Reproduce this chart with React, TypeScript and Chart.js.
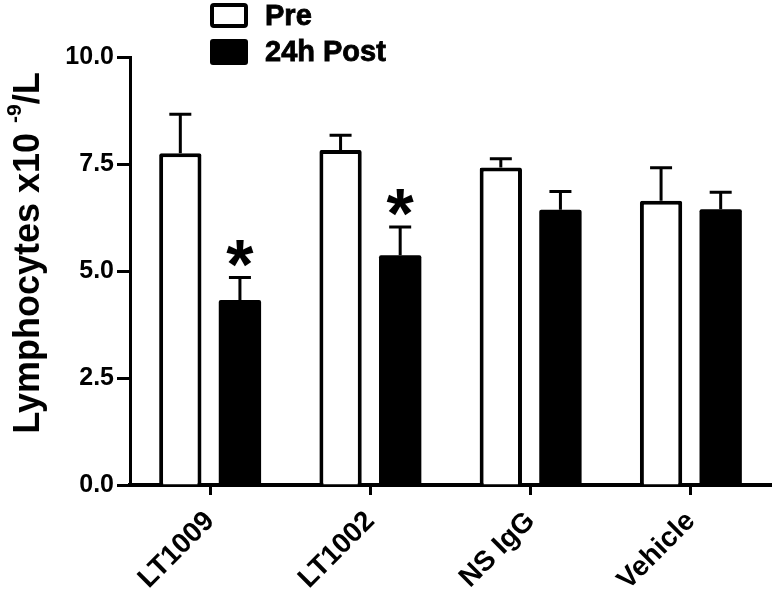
import React, { useEffect, useRef } from "react";
import { Chart, registerables } from "chart.js";

Chart.register(...registerables);

const categories = ["LT1009", "LT1002", "NS IgG", "Vehicle"];
const preValues = [7.75, 7.83, 7.42, 6.64];
const preErrors = [0.91, 0.34, 0.2, 0.77];
const postValues = [4.32, 5.37, 6.43, 6.44];
const postErrors = [0.53, 0.66, 0.43, 0.4];
const significant = [true, true, false, false];
const yTicks = [0, 2.5, 5, 7.5, 10];
const seriesLabels = ["Pre", "24h Post"];

const FONT = '"Liberation Sans", Arial, Helvetica, sans-serif';

const errorBarPlugin = {
  id: "errorBars",
  afterDatasetsDraw(chart: any) {
    const ctx = chart.ctx;
    const yScale = chart.scales.y;
    chart.data.datasets.forEach((ds: any, di: number) => {
      const meta = chart.getDatasetMeta(di);
      meta.data.forEach((el: any, i: number) => {
        const v = ds.data[i];
        const e = ds.errors[i];
        const yTop = yScale.getPixelForValue(v);
        const yErr = yScale.getPixelForValue(v + e);
        ctx.save();
        ctx.strokeStyle = "#000";
        ctx.lineWidth = 3;
        ctx.beginPath();
        ctx.moveTo(el.x, yTop);
        ctx.lineTo(el.x, yErr);
        ctx.moveTo(el.x - 11, yErr);
        ctx.lineTo(el.x + 11, yErr);
        ctx.stroke();
        ctx.restore();
      });
    });
  },
};

const asteriskPlugin = {
  id: "asterisks",
  afterDatasetsDraw(chart: any) {
    const ctx = chart.ctx;
    const yScale = chart.scales.y;
    const meta = chart.getDatasetMeta(1);
    ctx.save();
    ctx.fillStyle = "#000";
    ctx.font = `bold 70px ${FONT}`;
    ctx.textAlign = "center";
    ctx.textBaseline = "alphabetic";
    significant.forEach((s, i) => {
      if (!s) return;
      const el = meta.data[i];
      const yErr = yScale.getPixelForValue(postValues[i] + postErrors[i]);
      const m = ctx.measureText("*");
      const inkCenterOffset = (m.actualBoundingBoxAscent - m.actualBoundingBoxDescent) / 2;
      const targetCenter = yErr - 24;
      ctx.fillText("*", el.x, targetCenter + inkCenterOffset);
    });
    ctx.restore();
  },
};

const legendPlugin = {
  id: "customLegend",
  afterDraw(chart: any) {
    const ctx = chart.ctx;
    ctx.save();
    ctx.strokeStyle = "#000";
    ctx.lineWidth = 4;
    ctx.beginPath();
    ctx.roundRect(212, 5, 34, 21, 2);
    ctx.stroke();
    ctx.fillStyle = "#000";
    ctx.beginPath();
    ctx.roundRect(210, 39, 38, 26, 3);
    ctx.fill();
    ctx.font = `bold 29px ${FONT}`;
    ctx.textAlign = "left";
    ctx.textBaseline = "middle";
    ctx.lineWidth = 0.8;
    ctx.fillText(seriesLabels[0], 265, 17);
    ctx.strokeText(seriesLabels[0], 265, 17);
    ctx.fillText(seriesLabels[1], 265, 53);
    ctx.strokeText(seriesLabels[1], 265, 53);
    ctx.restore();
  },
};

const yTitlePlugin = {
  id: "yTitle",
  afterDraw(chart: any) {
    const ctx = chart.ctx;
    const main = "Lymphocytes x10 ";
    const sup = "-9";
    const tail = "/L";
    const mainFont = `bold 36px ${FONT}`;
    const supFont = `bold 21px ${FONT}`;
    ctx.save();
    ctx.font = mainFont;
    const wMain = ctx.measureText(main).width;
    const wTail = ctx.measureText(tail).width;
    ctx.font = supFont;
    const wSup = ctx.measureText(sup).width;
    const total = wMain + wSup + wTail;
    const centerY = 253;
    const baselineX = 39;
    ctx.translate(baselineX, centerY);
    ctx.rotate(-Math.PI / 2);
    ctx.fillStyle = "#000";
    ctx.textBaseline = "alphabetic";
    ctx.textAlign = "left";
    let x = -total / 2;
    ctx.font = mainFont;
    ctx.fillText(main, x, 0);
    x += wMain;
    ctx.font = supFont;
    ctx.fillText(sup, x, -18);
    x += wSup;
    ctx.font = mainFont;
    ctx.fillText(tail, x, 0);
    ctx.restore();
  },
};

export default function App() {
  const canvasRef = useRef<HTMLCanvasElement | null>(null);

  useEffect(() => {
    const canvas = canvasRef.current;
    if (!canvas) return;
    const chart = new Chart(canvas, {
      type: "bar",
      data: {
        labels: categories,
        datasets: [
          {
            label: seriesLabels[0],
            data: preValues,
            backgroundColor: "#ffffff",
            borderColor: "#000000",
            borderWidth: 4,
            borderSkipped: "bottom",
            borderRadius: 2,
            errors: preErrors,
          } as any,
          {
            label: seriesLabels[1],
            data: postValues,
            backgroundColor: "#000000",
            borderColor: "#000000",
            borderWidth: 0,
            borderRadius: 2,
            errors: postErrors,
          } as any,
        ],
      },
      options: {
        responsive: false,
        animation: false,
        maintainAspectRatio: false,
        categoryPercentage: 0.744,
        barPercentage: 0.71,
        layout: { padding: { top: 57, right: 4, left: 0, bottom: 0 } },
        plugins: {
          legend: { display: false },
          tooltip: { enabled: false },
          title: { display: false },
        },
        scales: {
          x: {
            offset: true,
            grid: {
              display: true,
              offset: false,
              drawOnChartArea: false,
              tickLength: 10,
              tickWidth: 3,
              tickColor: "#000",
            },
            border: { display: true, width: 4, color: "#000" },
            ticks: {
              color: "#000",
              font: { family: FONT, size: 28, weight: "bold" },
              maxRotation: 45,
              minRotation: 45,
              padding: 10,
            },
            afterFit: (s: any) => {
              s.height = 115;
            },
          },
          y: {
            min: 0,
            max: 10,
            afterBuildTicks: (s: any) => {
              s.ticks = yTicks.map((v) => ({ value: v }));
            },
            grid: {
              display: true,
              drawOnChartArea: false,
              tickLength: 13,
              tickWidth: 3,
              tickColor: "#000",
            },
            border: { display: true, width: 3, color: "#000" },
            ticks: {
              color: "#000",
              font: { family: FONT, size: 25, weight: "bold" },
              padding: 3,
              callback: (v: any) => Number(v).toFixed(1),
            },
            afterFit: (s: any) => {
              s.width = 130;
            },
          },
        },
      } as any,
      plugins: [errorBarPlugin, asteriskPlugin, legendPlugin, yTitlePlugin],
    });
    return () => chart.destroy();
  }, []);

  return (
    <div style={{ position: "absolute", left: 0, top: 0, width: 775, height: 600, background: "#fff" }}>
      <canvas ref={canvasRef} width={775} height={600} />
    </div>
  );
}
